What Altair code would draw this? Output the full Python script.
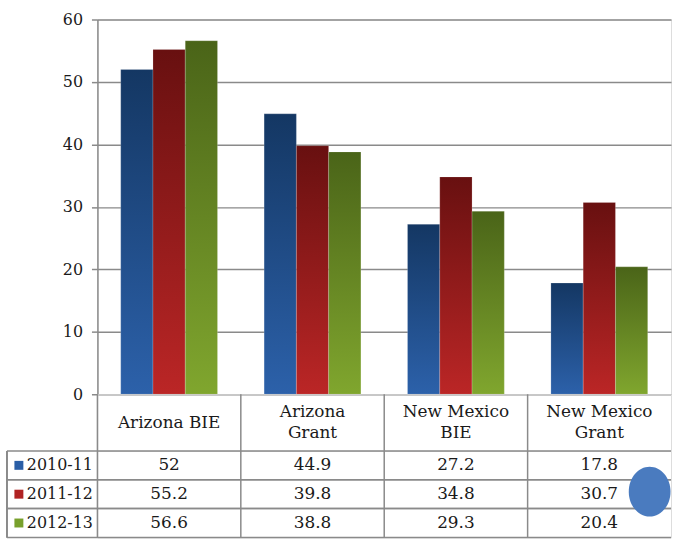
import altair as alt
import pandas as pd

categories = ["Arizona BIE", "Arizona Grant", "New Mexico BIE", "New Mexico Grant"]
header_labels = ["Arizona BIE", "Arizona\nGrant", "New Mexico\nBIE", "New Mexico\nGrant"]
series = ["2010-11", "2011-12", "2012-13"]
v2010 = [52, 44.9, 27.2, 17.8]
v2011 = [55.2, 39.8, 34.8, 30.7]
v2012 = [56.6, 38.8, 29.3, 20.4]
values = [v2010, v2011, v2012]

top_colors = ["#143763", "#681010", "#4a6418"]
bottom_colors = ["#2c61aa", "#bb2626", "#80a62e"]
swatch = ["#2a5ea6", "#b02222", "#78a02c"]

FONT = "DejaVu Serif"
GRAY = "#8a8a8a"
W = 577

rows = []
for s, vals in zip(series, values):
    for c, v in zip(categories, vals):
        rows.append({"cat": c, "series": s, "value": v, "label": f"{v:g}"})
df = pd.DataFrame(rows)

x_bar = alt.X("cat:N", sort=categories, axis=None,
              scale=alt.Scale(domain=categories, paddingInner=0.325, paddingOuter=0.1625))
xoff = alt.XOffset("series:N", scale=alt.Scale(domain=series))
y_bar = alt.Y("value:Q", scale=alt.Scale(domain=[0, 60], nice=False),
              axis=alt.Axis(values=[0, 10, 20, 30, 40, 50, 60], title=None,
                            grid=True, gridColor=GRAY, gridWidth=1.5,
                            domainColor=GRAY, domainWidth=1.5,
                            tickColor=GRAY, tickWidth=1.5, tickSize=6,
                            labelFont=FONT, labelFontSize=16, labelColor="#1a1a1a",
                            labelPadding=9))

bar_layers = []
for i, s in enumerate(series):
    grad = alt.Gradient(gradient="linear",
                        stops=[alt.GradientStop(color=top_colors[i], offset=0),
                               alt.GradientStop(color=bottom_colors[i], offset=1)],
                        x1=0, x2=0, y1=0, y2=1)
    bar_layers.append(
        alt.Chart(df).transform_filter(alt.datum.series == s)
        .mark_bar(color=grad, stroke="#ffffff", strokeOpacity=0.3, strokeWidth=0.6)
        .encode(x=x_bar, xOffset=xoff, y=y_bar)
    )
bars = alt.layer(*bar_layers).properties(width=W, height=377)

# header row
hdf = pd.DataFrame({"cat": categories, "text": header_labels})
hdf["lines"] = hdf["text"].str.count("\n") + 1
x_tab = alt.X("cat:N", sort=categories, axis=None,
              scale=alt.Scale(domain=categories, paddingInner=0, paddingOuter=0))
header_one = alt.Chart(hdf).transform_filter(alt.datum.lines == 1) \
    .mark_text(font=FONT, fontSize=17, color="#1a1a1a", baseline="middle") \
    .encode(x=x_tab, y=alt.value(28.5), text="text:N")
header_two = alt.Chart(hdf).transform_filter(alt.datum.lines == 2) \
    .mark_text(font=FONT, fontSize=17, color="#1a1a1a", lineBreak="\n",
               lineHeight=22, baseline="middle", dy=-11) \
    .encode(x=x_tab, y=alt.value(28.5), text="text:N")
header_rules = alt.Chart(hdf).mark_rule(color=GRAY, strokeWidth=1.5) \
    .encode(x=alt.X("cat:N", sort=categories, axis=None, bandPosition=0,
                    scale=alt.Scale(domain=categories, paddingInner=0, paddingOuter=0)))
header = alt.layer(header_rules, header_one, header_two).properties(width=W, height=57)

# data rows
y_tab = alt.Y("series:N", sort=series, axis=None,
              scale=alt.Scale(domain=series, paddingInner=0, paddingOuter=0))
sdf = pd.DataFrame({"series": series, "color": swatch})
row_text = alt.Chart(df).mark_text(font=FONT, fontSize=17, color="#1a1a1a", baseline="middle") \
    .encode(x=x_tab, y=y_tab, text="label:N")
v_rules = alt.Chart(hdf).mark_rule(color=GRAY, strokeWidth=1.5) \
    .encode(x=alt.X("cat:N", sort=categories, axis=None, bandPosition=0,
                    scale=alt.Scale(domain=categories, paddingInner=0, paddingOuter=0)))
h_rules = alt.Chart(sdf).mark_rule(color=GRAY, strokeWidth=1.5) \
    .encode(y=alt.Y("series:N", sort=series, axis=None, bandPosition=0,
                    scale=alt.Scale(domain=series, paddingInner=0, paddingOuter=0)),
            x=alt.value(-91), x2=alt.value(W))
h_bottom = alt.Chart(sdf).mark_rule(color=GRAY, strokeWidth=1.5) \
    .encode(y=alt.Y("series:N", sort=series, axis=None, bandPosition=1,
                    scale=alt.Scale(domain=series, paddingInner=0, paddingOuter=0)),
            x=alt.value(-91), x2=alt.value(W))
left_rule = alt.Chart(sdf).mark_rule(color=GRAY, strokeWidth=1.5) \
    .encode(x=alt.value(-91), y=alt.value(0), y2=alt.value(87))
swatches = alt.Chart(sdf).mark_point(shape="square", filled=True, size=81, opacity=1) \
    .encode(x=alt.value(-79), y=y_tab,
            color=alt.Color("color:N", scale=None))
row_labels = alt.Chart(sdf).mark_text(font=FONT, fontSize=16, color="#1a1a1a",
                                      align="left", baseline="middle") \
    .encode(x=alt.value(-71), y=y_tab, text="series:N")
ellipse = "M -0.84 0 A 0.84 1 0 1 1 0.84 0 A 0.84 1 0 1 1 -0.84 0 Z"
dot = alt.Chart(sdf.head(1)).mark_point(shape=ellipse, filled=True, size=2500,
                                        color="#4a7bbf", opacity=1) \
    .encode(x=alt.value(555.5), y=alt.value(41))
table = alt.layer(v_rules, h_rules, h_bottom, left_rule, swatches, row_labels, row_text, dot) \
    .properties(width=W, height=87)

chart = alt.vconcat(bars, header, table, spacing=0, bounds="flush").properties(
    padding={"left": 5, "top": 9, "right": 0, "bottom": 1}
).configure_view(stroke=None).configure(background="white")

chart.save("out.html", embed_options={"renderer": "svg", "actions": False})
